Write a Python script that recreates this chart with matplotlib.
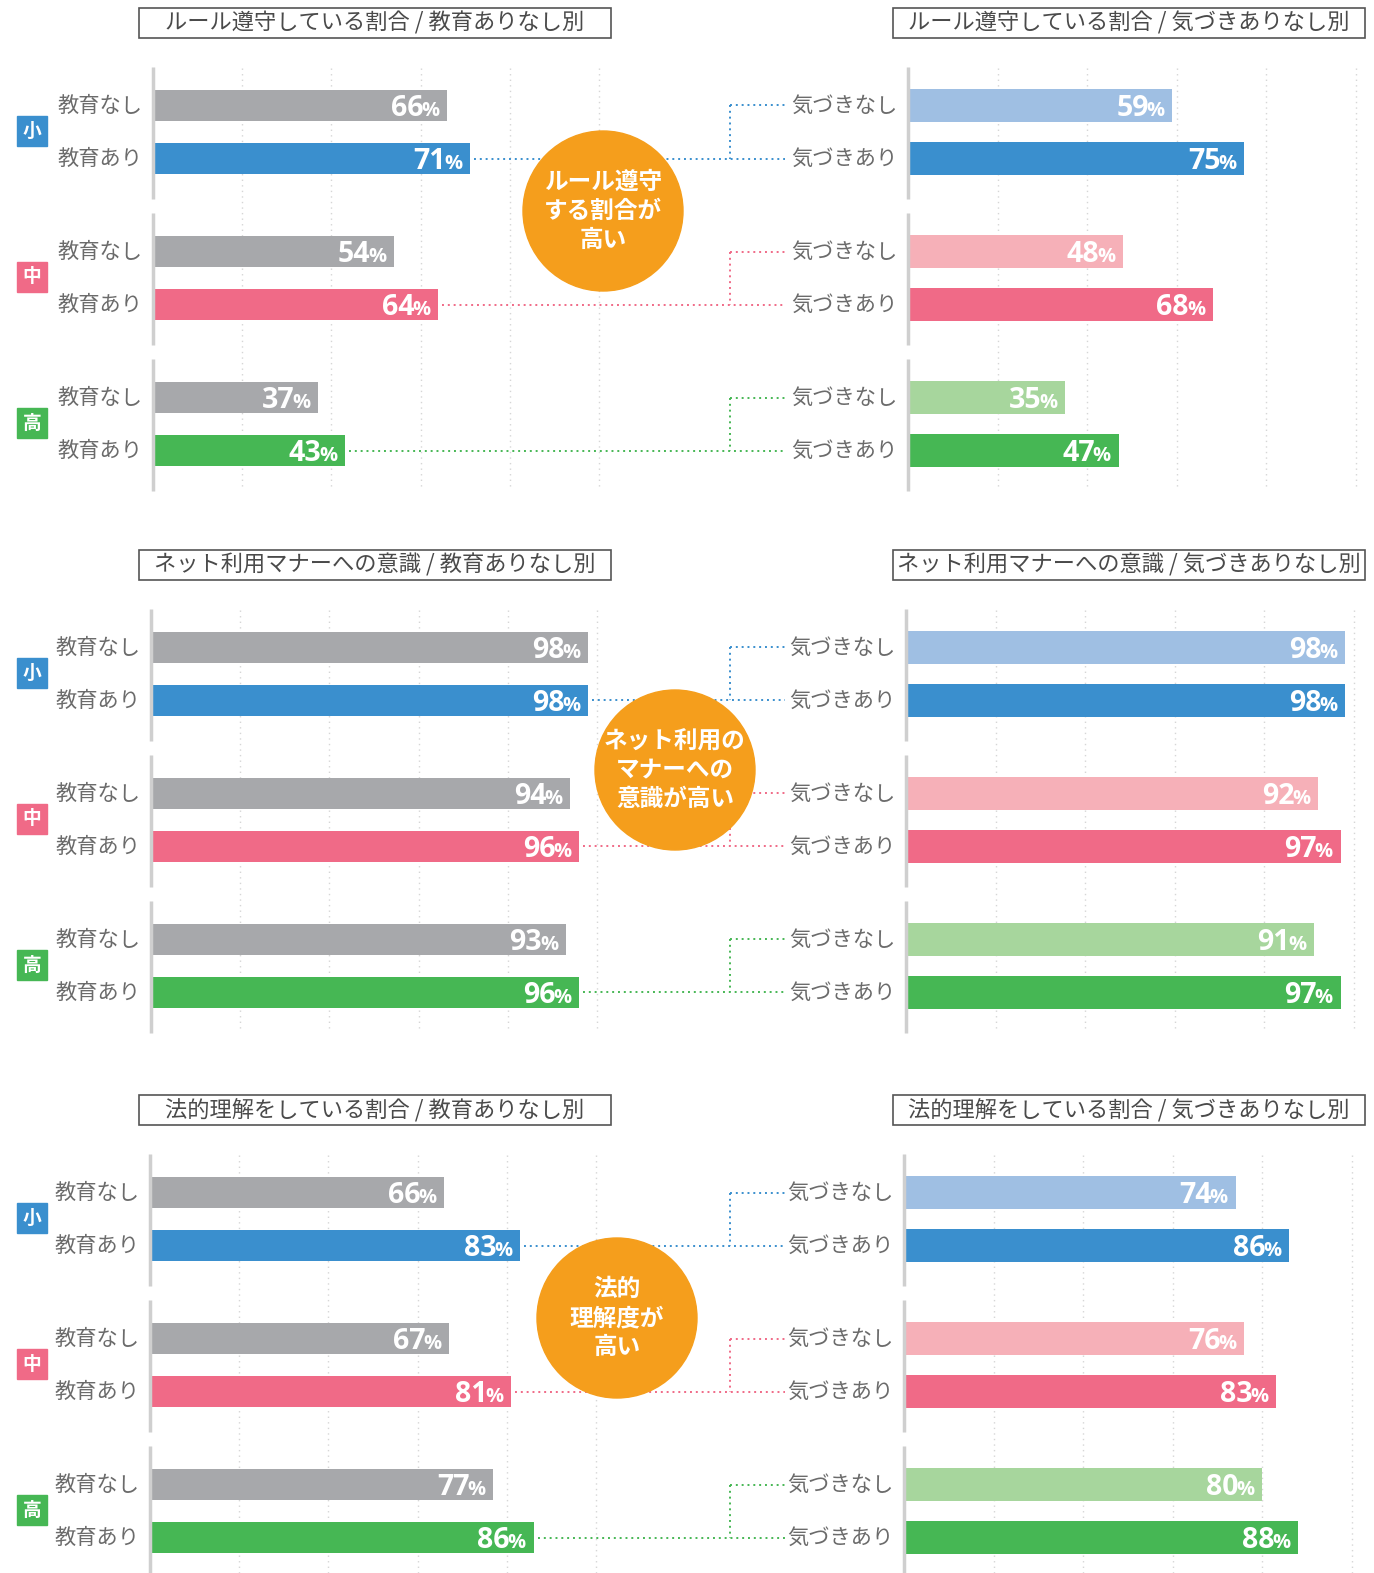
import matplotlib.pyplot as plt
from matplotlib.patches import Rectangle, Circle

plt.rcParams['font.family'] = ['Noto Sans CJK JP', 'DejaVu Sans']

W, H = 1374, 1573

# --- data ---
schools = ['小', '中', '高']
left_labels = ['教育なし', '教育あり']
right_labels = ['気づきなし', '気づきあり']

left_titles = ['ルール遵守している割合 / 教育ありなし別',
               'ネット利用マナーへの意識 / 教育ありなし別',
               '法的理解をしている割合 / 教育ありなし別']
right_titles = ['ルール遵守している割合 / 気づきありなし別',
                'ネット利用マナーへの意識 / 気づきありなし別',
                '法的理解をしている割合 / 気づきありなし別']
circle_texts = ['ルール遵守\nする割合が\n高い',
                'ネット利用の\nマナーへの\n意識が高い',
                '法的\n理解度が\n高い']

# [なし, あり] per school (小, 中, 高)
rule_edu = [[66, 71], [54, 64], [37, 43]]
rule_aware = [[59, 75], [48, 68], [35, 47]]
manner_edu = [[98, 98], [94, 96], [93, 96]]
manner_aware = [[98, 98], [92, 97], [91, 97]]
law_edu = [[66, 83], [67, 81], [77, 86]]
law_aware = [[74, 86], [76, 83], [80, 88]]

edu_data = [rule_edu, manner_edu, law_edu]
aware_data = [rule_aware, manner_aware, law_aware]

# --- style ---
gray = '#A7A8AB'
dark = ['#3A8FCE', '#F06A87', '#46B754']
light = ['#9FBFE3', '#F6B0B8', '#A7D69D']
orange = '#F59E1C'
label_col = '#6b6b6b'
num_font = ['Open Sans', 'DejaVu Sans']

# layout (pixels)
sec_top = [0, 542, 1087]
left_x0 = [153, 151, 150]
right_x0 = [908, 906, 904]
left_w, right_w = 446, 448
circle_c = [(603, 211), (675, 228), (617, 231)]
GSTEP = 146
ROWS = [105.5, 158.5]

fig = plt.figure(figsize=(W / 100, H / 100), dpi=100)

ov = fig.add_axes([0, 0, 1, 1])
ov.set_xlim(0, W)
ov.set_ylim(H, 0)
ov.axis('off')
ov.set_zorder(5)


def make_panel(x0, w, top):
    ax = fig.add_axes([x0 / W, 1 - (top + 492) / H, w / W, (492 - 66) / H])
    ax.set_xlim(0, 100)
    ax.set_ylim(492, 66)
    ax.axis('off')
    ax.vlines([20, 40, 60, 80, 100], 68, 490, colors='#d6d6d6',
              linestyles=(0, (1, 3)), lw=1, zorder=0, clip_on=False)
    for g in range(3):
        ax.vlines(0, g * GSTEP + 67, g * GSTEP + 199, colors='#cfcfcf',
                  lw=2.5, zorder=3, clip_on=False)
    return ax


def value_label(ax, v, y):
    pct = ax.annotate('%', xy=(v, y), xytext=(-5.5, -7.5), textcoords='offset points',
                      ha='right', va='baseline', color='white', fontsize=14.5,
                      fontweight='bold', family=num_font,
                      annotation_clip=False, zorder=4)
    ax.annotate(str(v), xy=(0, y), xycoords=(pct, 'data'), xytext=(1.5, -7.5),
                textcoords='offset points', ha='right', va='baseline',
                color='white', fontsize=20.5, fontweight='bold',
                family=num_font, annotation_clip=False, zorder=4)


def to_ov(ax, x, y):
    return ov.transData.inverted().transform(ax.transData.transform((x, y)))


for s in range(3):
    top = sec_top[s]
    axL = make_panel(left_x0[s], left_w, top)
    axR = make_panel(right_x0[s], right_w, top)

    for g in range(3):
        rows = [g * GSTEP + r for r in ROWS]
        lv = edu_data[s][g]
        rv = aware_data[s][g]
        axL.barh(rows, lv, height=31, color=[gray, dark[g]], zorder=2)
        axR.barh(rows, rv, height=33, color=[light[g], dark[g]], zorder=2)
        for i in range(2):
            value_label(axL, lv[i], rows[i])
            value_label(axR, rv[i], rows[i])
            axL.annotate(left_labels[i], xy=(0, rows[i]), xytext=(-7.5, 0),
                         textcoords='offset points', ha='right', va='center',
                         fontsize=15.3, color=label_col, annotation_clip=False)
            axR.annotate(right_labels[i], xy=(0, rows[i]), xytext=(-7.5, 0),
                         textcoords='offset points', ha='right', va='center',
                         fontsize=15.3, color=label_col, annotation_clip=False)

        # connector: left "あり" bar end -> right labels bracket
        xe, ya = to_ov(axL, lv[1], rows[1])
        _, yn = to_ov(axR, 0, rows[0])
        kw = dict(color=dark[g], ls=(0, (1, 2)), lw=1.4, zorder=1)
        ov.plot([xe + 4, 785], [ya, ya], **kw)
        ov.plot([730, 730], [yn, ya], **kw)
        ov.plot([730, 785], [yn, yn], **kw)

        # school badge
        by = top + g * GSTEP + 131
        ov.add_patch(Rectangle((17, by - 15), 30, 30, color=dark[g], zorder=3))
        ov.text(32, by, schools[g], ha='center', va='center', color='white',
                fontsize=13.5, fontweight='bold', zorder=4)

    # title boxes
    for bx, title in [(139, left_titles[s]), (893, right_titles[s])]:
        ov.add_patch(Rectangle((bx, top + 8), 472, 30, facecolor='white',
                               edgecolor='#555555', lw=1.2, zorder=3))
        ov.text(bx + 236, top + 23, title, ha='center', va='center',
                fontsize=16, color='#4a4a4a', zorder=4)

    # highlight circle
    cx, cy = circle_c[s]
    ov.add_patch(Circle((cx, top + cy), 80, color=orange, zorder=5))
    ov.text(cx, top + cy, circle_texts[s], ha='center', va='center',
            color='white', fontsize=17, fontweight='bold', linespacing=1.25,
            zorder=6)

fig.savefig('out.png', dpi=100)
